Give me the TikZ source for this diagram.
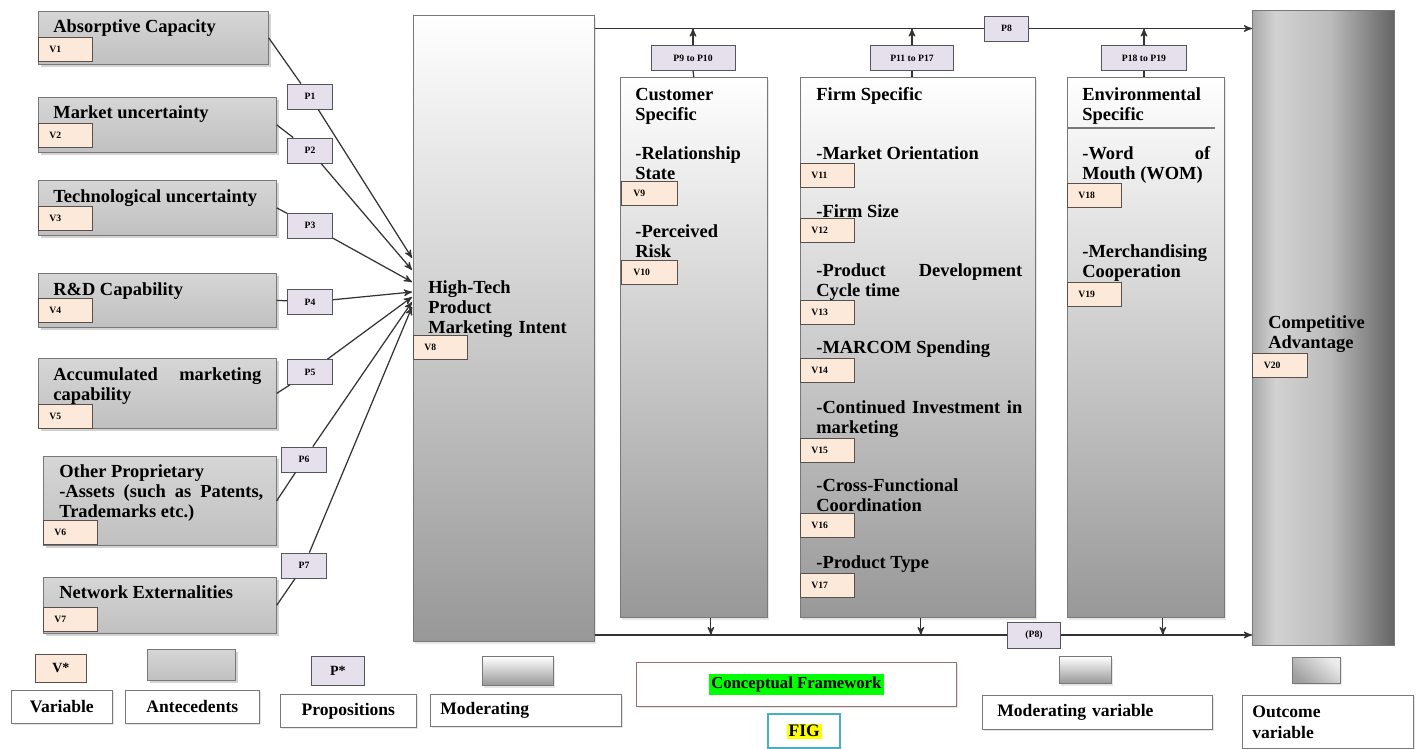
\documentclass[tikz,border=0pt]{standalone}
\usepackage{fontspec}
\setmainfont{Liberation Serif}
\usepackage{tikz}
\usetikzlibrary{arrows,shadows,positioning}
\tikzset{>=stealth'}
\hyphenpenalty=10000
\exhyphenpenalty=10000

\definecolor{antetop}{RGB}{214,214,214}
\definecolor{antebot}{RGB}{192,192,192}
\definecolor{antedraw}{RGB}{120,120,120}
\definecolor{modbot}{RGB}{152,152,152}
\definecolor{varfill}{RGB}{252,233,217}
\definecolor{vardraw}{RGB}{90,80,75}
\definecolor{propfill}{RGB}{229,224,236}
\definecolor{propdraw}{RGB}{85,85,95}
\definecolor{hlgreen}{RGB}{0,255,0}
\definecolor{hlyellow}{RGB}{255,255,0}
\definecolor{figdraw}{RGB}{75,172,198}
\definecolor{cfdraw}{RGB}{150,110,110}
\definecolor{caA}{RGB}{170,170,170}
\definecolor{caB}{RGB}{210,210,210}
\definecolor{caC}{RGB}{188,188,188}
\definecolor{caD}{RGB}{100,100,100}
\pgfdeclarehorizontalshading{cashade}{100bp}{color(0bp)=(caA); color(25bp)=(caA); color(33bp)=(caB); color(52bp)=(caC); color(75bp)=(caD); color(100bp)=(caD)}

\newcommand{\headfont}{\fontsize{10.5}{11.5}\selectfont\bfseries}
\newcommand{\tagfont}{\fontsize{5.5}{6}\selectfont\bfseries}
\newcommand{\legfont}{\fontsize{10}{12}\selectfont\bfseries}

\tikzset{
  ante/.style={draw=antedraw, top color=antetop, bottom color=antebot, anchor=north west, inner sep=0,
    drop shadow={opacity=0.35, shadow xshift=0.05cm, shadow yshift=-0.06cm}},
  modbox/.style={draw=antedraw, top color=white, bottom color=modbot, anchor=north west, inner sep=0,
    drop shadow={opacity=0.2, shadow xshift=0.04cm, shadow yshift=-0.05cm}},
  varbox/.style={draw=vardraw, fill=varfill, anchor=north west, minimum width=1.08cm, minimum height=0.48cm,
    inner xsep=0.22cm, inner ysep=0, text width=0.64cm, align=left, font=\tagfont},
  prop/.style={draw=propdraw, fill=propfill, minimum width=0.9cm, minimum height=0.5cm, inner xsep=0.1cm, font=\tagfont},
  head/.style={anchor=base west, inner sep=0, font=\headfont, align=left},
  legend/.style={draw=antedraw, fill=white, anchor=north west, inner sep=0, font=\legfont,
    drop shadow={opacity=0.2, shadow xshift=0.03cm, shadow yshift=-0.04cm}},
  link/.style={draw=black!80, line width=0.7pt},
}

\begin{document}
\begin{tikzpicture}
\useasboundingbox (0,0) rectangle (28.54,-14.98);
% antecedents:
\node[ante, minimum width=4.60cm, minimum height=1.06cm] (A1) at (0.76,-0.22) {};
\node[ante, minimum width=4.76cm, minimum height=1.10cm] (A2) at (0.76,-1.94) {};
\node[ante, minimum width=4.76cm, minimum height=1.10cm] (A3) at (0.76,-3.60) {};
\node[ante, minimum width=4.76cm, minimum height=1.08cm] (A4) at (0.76,-5.46) {};
\node[ante, minimum width=4.76cm, minimum height=1.40cm] (A5) at (0.76,-7.16) {};
\node[ante, minimum width=4.66cm, minimum height=1.78cm] (A6) at (0.86,-9.12) {};
\node[ante, minimum width=4.66cm, minimum height=1.12cm] (A7) at (0.86,-11.54) {};
\node[head] (A1t) at (1.06,-0.64) {Absorptive Capacity};
\node[head] (A2t) at (1.06,-2.36) {Market uncertainty};
\node[head] (A3t) at (1.06,-4.04) {Technological uncertainty};
\node[head] (A4t) at (1.06,-5.90) {R\&D Capability};
\node[head, text width=4.16cm, align=justify] (A5t) at (1.06,-7.60) {Accumulated marketing capability};
\node[head, text width=4.08cm, align=justify] (A6t) at (1.18,-9.54) {Other Proprietary\\ -Assets (such as Patents, Trademarks etc.)};
\node[head] (A7t) at (1.18,-11.96) {Network Externalities};
\node[varbox] (V1) at (0.76,-0.74) {V1};
\node[varbox] (V2) at (0.76,-2.46) {V2};
\node[varbox] (V3) at (0.76,-4.12) {V3};
\node[varbox] (V4) at (0.76,-5.96) {V4};
\node[varbox] (V5) at (0.76,-8.08) {V5};
\node[varbox] (V6) at (0.86,-10.40) {V6};
\node[varbox] (V7) at (0.86,-12.14) {V7};
% propositions P1 to P7:
\node[prop] (P1) at (6.20,-1.93) {P1};
\node[prop] (P2) at (6.20,-3.01) {P2};
\node[prop] (P3) at (6.20,-4.51) {P3};
\node[prop] (P4) at (6.20,-6.04) {P4};
\node[prop] (P5) at (6.20,-7.44) {P5};
\node[prop] (P6) at (6.08,-9.19) {P6};
\node[prop] (P7) at (6.08,-11.31) {P7};
% high-tech intent:
\node[modbox, minimum width=3.62cm, minimum height=12.52cm] (HT) at (8.26,-0.30) {};
\node[head, text width=2.85cm] (HTt) at (8.56,-5.86) {High-Tech Product Marketing Intent};
\node[varbox] (V8) at (8.26,-6.70) {V8};
\coordinate (t1) at (8.24,-5.16);
\coordinate (t2) at (8.24,-5.40);
\coordinate (t3) at (8.24,-5.64);
\coordinate (t4) at (8.24,-5.84);
\coordinate (t5) at (8.24,-5.94);
\coordinate (t6) at (8.24,-6.04);
\coordinate (t7) at (8.24,-6.14);
\foreach \i in {1,...,7}{
  \draw[link] (A\i.east) -- (P\i);
  \draw[link,->] (P\i) -- (t\i);
}
% moderators:
\node[modbox, minimum width=2.94cm, minimum height=10.80cm] (CS) at (12.40,-1.54) {};
\node[modbox, minimum width=4.70cm, minimum height=10.80cm] (FS) at (16.00,-1.54) {};
\node[modbox, minimum width=3.14cm, minimum height=10.80cm] (ES) at (21.34,-1.54) {};
\node[head, text width=2.4cm] (CS0) at (12.70,-2.00) {Customer Specific};
\node[head, text width=2.4cm] (CS1) at (12.70,-3.18) {-Relationship State};
\node[varbox, minimum width=1.12cm] (V9) at (12.42,-3.62) {V9};
\node[head, text width=2.4cm] (CS2) at (12.70,-4.74) {-Perceived Risk};
\node[varbox, minimum width=1.12cm] (V10) at (12.42,-5.20) {V10};
\node[head] (FS0) at (16.32,-2.00) {Firm Specific};
\node[head] (FS1) at (16.32,-3.18) {-Market Orientation};
\node[varbox] (V11) at (16.00,-3.26) {V11};
\node[head] (FS2) at (16.32,-4.34) {-Firm Size};
\node[varbox] (V12) at (16.00,-4.36) {V12};
\node[head, text width=4.12cm, align=justify] (FS3) at (16.32,-5.52) {-Product Development Cycle time};
\node[varbox] (V13) at (16.00,-6.00) {V13};
\node[head] (FS4) at (16.32,-7.06) {-MARCOM Spending};
\node[varbox] (V14) at (16.00,-7.16) {V14};
\node[head, text width=4.12cm, align=justify] (FS5) at (16.32,-8.26) {-Continued Investment in marketing};
\node[varbox] (V15) at (16.00,-8.76) {V15};
\node[head, text width=4.12cm] (FS6) at (16.32,-9.82) {-Cross-Functional Coordination};
\node[varbox] (V16) at (16.00,-10.26) {V16};
\node[head] (FS7) at (16.32,-11.36) {-Product Type};
\node[varbox] (V17) at (16.00,-11.46) {V17};
\node[head, text width=2.5cm] (ES0) at (21.64,-2.00) {Environmental Specific};
\draw[draw=antedraw, line width=0.8pt] (21.34,-2.56) -- (24.30,-2.56);
\node[head, text width=2.56cm, align=justify] (ES1) at (21.64,-3.18) {-Word of\linebreak Mouth (WOM)};
\node[varbox] (V18) at (21.34,-3.66) {V18};
\node[head, text width=2.6cm] (ES2) at (21.64,-5.14) {-Merchandising Cooperation};
\node[varbox] (V19) at (21.34,-5.64) {V19};
% outcome:
\node[draw=antedraw, shade, shading=cashade, anchor=north west, inner sep=0, minimum width=2.84cm, minimum height=12.70cm] (CA) at (25.04,-0.20) {};
\node[head, text width=2.2cm] (CAt) at (25.36,-6.56) {Competitive Advantage};
\node[varbox, minimum width=1.10cm] (V20) at (25.04,-7.06) {V20};
% P8 lines:
\node[prop, minimum width=0.88cm] (P8) at (20.13,-0.57) {P8};
\node[prop, minimum width=1.06cm, minimum height=0.52cm] (P8b) at (20.68,-12.70) {(P8)};
\draw[link] ([yshift=-0.27cm]HT.north east) -- (P8.west);
\draw[link,->] (P8.east) -- (P8.east -| CA.west);
\draw[link] (HT.east |- P8b.west) -- (P8b.west);
\draw[link,->] (P8b.east) -- (P8b.east -| CA.west);
% moderating propositions:
\node[prop, minimum width=1.68cm] (P910) at (13.86,-1.16) {P9 to P10};
\node[prop, minimum width=1.66cm] (P1117) at (18.24,-1.16) {P11 to P17};
\node[prop, minimum width=1.70cm] (P1819) at (22.88,-1.16) {P18 to P19};
\draw[link] (CS.north) -- (P910.south);
\draw[link,->] (P910.north) -- (P910.north |- P8.west);
\draw[link] (FS.north -| P1117) -- (P1117.south);
\draw[link,->] (P1117.north) -- (P1117.north |- P8.west);
\draw[link] (ES.north -| P1819) -- (P1819.south);
\draw[link,->] (P1819.north) -- (P1819.north |- P8.west);
\draw[link,->] ([xshift=0.34cm]CS.south) -- ([xshift=0.34cm]CS.south |- P8b.west);
\draw[link,->] ([xshift=0.06cm]FS.south) -- ([xshift=0.06cm]FS.south |- P8b.west);
\draw[link,->] ([xshift=0.34cm]ES.south) -- ([xshift=0.34cm]ES.south |- P8b.west);
% legend:
\node[varbox, minimum width=1.02cm, minimum height=0.56cm, text width=, inner xsep=0, align=center, font=\fontsize{8}{9}\selectfont\bfseries] (Vs) at (0.70,-13.08) {V*};
\node[legend, minimum width=2.02cm, minimum height=0.66cm] (Lvar) at (0.22,-13.80) {Variable};
\node[ante, minimum width=1.76cm, minimum height=0.62cm] (Sante) at (2.94,-12.98) {};
\node[legend, minimum width=2.68cm, minimum height=0.66cm] (Lante) at (2.50,-13.80) {Antecedents};
\node[prop, anchor=north west, minimum width=1.06cm, minimum height=0.58cm, font=\fontsize{8}{9}\selectfont\bfseries] (Ps) at (6.22,-13.12) {P*};
\node[legend, minimum width=2.72cm, minimum height=0.66cm] (Lprop) at (5.60,-13.88) {Propositions};
\node[modbox, minimum width=1.42cm, minimum height=0.58cm] (Smod) at (9.64,-13.12) {};
\node[legend, minimum height=0.64cm, text width=3.42cm, inner xsep=0.2cm, align=left] (Lmod) at (8.60,-13.88) {Moderating};
\node[legend, draw=cfdraw, minimum width=6.40cm, minimum height=0.88cm] (CF) at (12.72,-13.24) {};
\node[fill=hlgreen, inner sep=1.5pt, font=\fontsize{9.5}{11}\selectfont\bfseries] (CFt) at (CF.center) {Conceptual Framework};
\node[draw=figdraw, line width=1.4pt, anchor=north west, minimum width=1.44cm, minimum height=0.68cm, inner sep=0] (FIG) at (15.34,-14.26) {};
\node[fill=hlyellow, inner sep=1pt, font=\legfont] (FIGt) at (FIG.center) {FIG};
\node[modbox, minimum width=1.04cm, minimum height=0.54cm] (Smv) at (21.18,-13.12) {};
\node[legend, minimum height=0.68cm, text width=4.0cm, inner xsep=0.3cm, align=left] (Lmv) at (19.64,-13.90) {Moderating variable};
\node[draw=antedraw, anchor=north west, inner sep=0, minimum width=0.96cm, minimum height=0.52cm,
  shade, top color=gray!15, bottom color=gray!75, shading angle=-40,
  drop shadow={opacity=0.2, shadow xshift=0.03cm, shadow yshift=-0.04cm}] (Sout) at (25.84,-13.14) {};
\node[legend, minimum height=1.06cm, text width=3.02cm, inner xsep=0.2cm, align=left] (Lout) at (24.84,-13.90) {Outcome\\ variable};
\end{tikzpicture}
\end{document}
